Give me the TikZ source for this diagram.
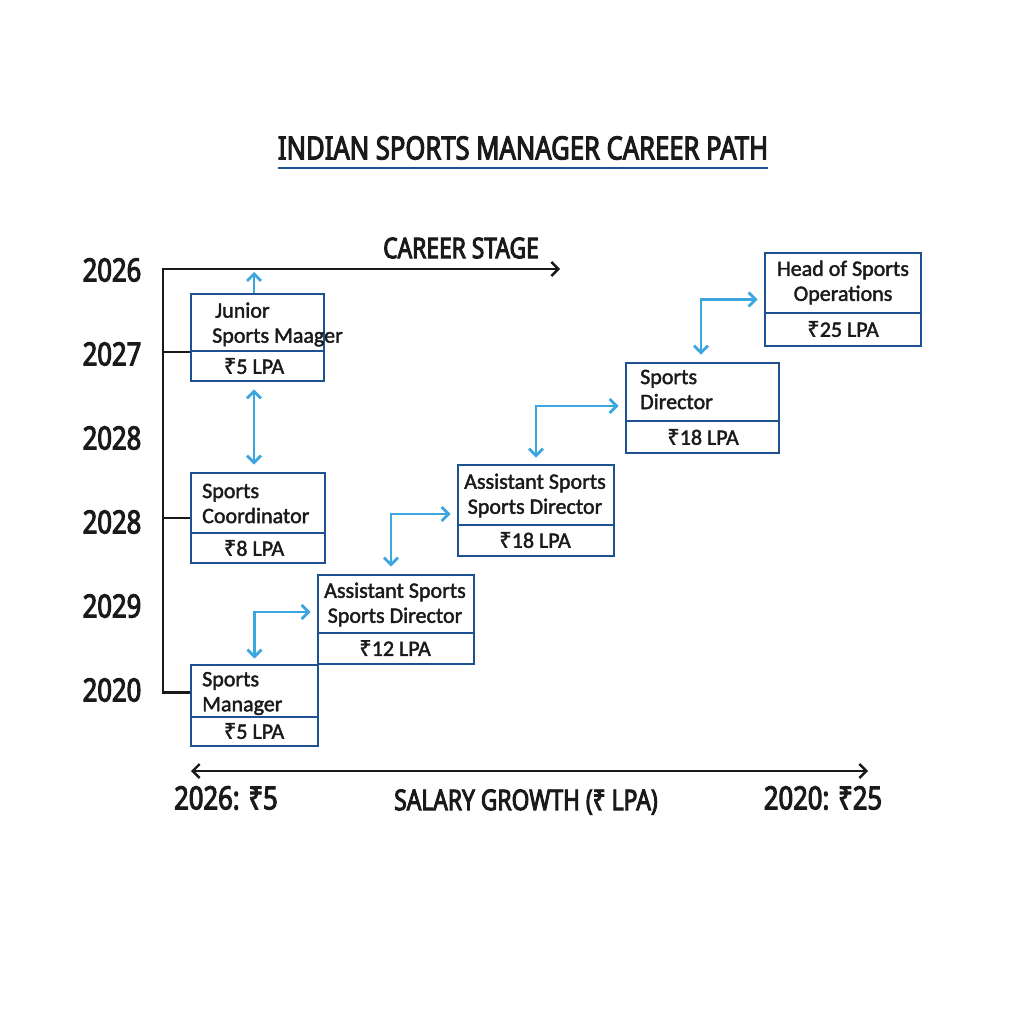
\documentclass[tikz,border=0pt]{standalone}
\usepackage{fontspec}
\setmainfont[FakeBold=1.8]{Carlito}
\newfontfamily\headfont[FakeStretch=0.8, FakeBold=3.2]{Noto Sans}
\newfontfamily\rupfont[FakeBold=1.4]{Noto Sans}
\usetikzlibrary{arrows.meta}
\definecolor{boxblue}{HTML}{1D5190}
\definecolor{flowblue}{HTML}{3BA7DE}
\definecolor{inkgray}{HTML}{1A1A1A}
\newcommand{\rs}{{\rupfont ₹}}

\begin{document}
\begin{tikzpicture}[x=1pt, y=-1pt,
    >={Straight Barb[length=7pt,width=14pt]},
    stage/.style={draw=boxblue, line width=2.8pt, fill=white, inner sep=0pt},
    divider/.style={draw=boxblue, line width=2.2pt},
    role/.style={font=\fontsize{22}{25}\selectfont, text=inkgray, align=center, inner sep=0pt},
    pay/.style={font=\fontsize{22}{25}\selectfont, text=inkgray, inner sep=0pt},
    flow/.style={draw=flowblue, line width=2.8pt},
    axis/.style={draw=black!90, line width=2.4pt},
    year/.style={font=\headfont\fontsize{32}{35}\selectfont, text=inkgray},
    heading/.style={font=\headfont\fontsize{28.5}{32}\selectfont, text=inkgray}]
      \fill[white] (0,0) rectangle (1024,1024);
      \useasboundingbox (0,0) rectangle (1024,1024);
      % title
      \node[heading, font=\headfont\fontsize{32}{36}\selectfont] (title) at (523,148) {INDIAN SPORTS MANAGER CAREER PATH};
      \draw[boxblue, line width=2.5pt] (278,168) -- (768,168);
      % stage boxes
      \node[stage, minimum width=133pt, minimum height=87pt] (junior) at (257.5,337.5) {};
      \node[stage, minimum width=134pt, minimum height=90pt] (coord) at (258,518) {};
      \node[stage, minimum width=127pt, minimum height=81pt] (mgr) at (254.5,705.5) {};
      \node[stage, minimum width=156pt, minimum height=89pt] (asst) at (396,619.5) {};
      \node[stage, minimum width=156pt, minimum height=91pt] (asstb) at (536,510.5) {};
      \node[stage, minimum width=153pt, minimum height=90pt] (dir) at (702.5,408) {};
      \node[stage, minimum width=156pt, minimum height=93pt] (head) at (843,299.5) {};
      \draw[divider] (junior.west |- 0,351) -- (junior.east |- 0,351);
      \draw[divider] (coord.west |- 0,533) -- (coord.east |- 0,533);
      \draw[divider] (mgr.west |- 0,717) -- (mgr.east |- 0,717);
      \draw[divider] (asst.west |- 0,633) -- (asst.east |- 0,633);
      \draw[divider] (asstb.west |- 0,525) -- (asstb.east |- 0,525);
      \draw[divider] (dir.west |- 0,421) -- (dir.east |- 0,421);
      \draw[divider] (head.west |- 0,313) -- (head.east |- 0,313);
      % roles and pay
      \node[role, anchor=west, align=left] (junior-t) at (212,324.5) {\hspace{3pt}Junior\\Sports Maager};
      \node[pay] (junior-p) at (254,366) {\rs5 LPA};
      \node[role, anchor=west, align=left] (coord-t) at (202,503.5) {Sports\\Coordinator};
      \node[pay] (coord-p) at (254,548) {\rs8 LPA};
      \node[role, anchor=west, align=left] (mgr-t) at (202,693.5) {Sports\\Manager};
      \node[pay] (mgr-p) at (254,731) {\rs5 LPA};
      \node[role] (asst-t) at (395,604.5) {Assistant Sports\\Sports Director};
      \node[pay] (asst-p) at (395,648) {\rs12 LPA};
      \node[role] (asstb-t) at (535,495.5) {Assistant Sports\\Sports Director};
      \node[pay] (asstb-p) at (535,540) {\rs18 LPA};
      \node[role, anchor=west, align=left] (dir-t) at (640,389.5) {Sports\\Director};
      \node[pay] (dir-p) at (703,437) {\rs18 LPA};
      \node[role] (head-t) at (843,282.5) {Head of Sports\\Operations};
      \node[pay] (head-p) at (843,329) {\rs25 LPA};
      % career stage axis
      \coordinate (corner) at (163,269);
      \coordinate (tip) at (560,269);
      \node[heading] (stage-l) at (461,248) {CAREER STAGE};
      \draw[axis,<-] (tip) -- (corner) |- ([yshift=13pt]mgr.west);
      \draw[axis] (corner |- 0,352) -- (junior.west |- 0,352);
      \draw[axis] (corner |- coord.west) -- (coord.west);
      % years
      \node[year] (y1) at (112,270) {2026};
      \node[year] (y2) at (112,354) {2027};
      \node[year] (y3) at (112,438) {2028};
      \node[year] (y4) at (112,522) {2028};
      \node[year] (y5) at (112,606) {2029};
      \node[year] (y6) at (112,690) {2020};
      % promotions
      \coordinate (up) at (254,272);
      \draw[flow,->] (junior.north -| up) -- (up);
      \draw[flow,<->, shorten <=7pt, shorten >=7pt] ([xshift=-3.5pt]junior.south) -- ([xshift=-4pt]coord.north);
      \draw[flow,<->, shorten <=5pt, shorten >=6pt] (mgr.north) |- ([yshift=7.5pt]asst.west);
      \draw[flow,<->, shorten <=7pt, shorten >=6pt] ([xshift=-5pt]asst.north) |- ([yshift=-3.5pt]asstb.west);
      \draw[flow,<->, shorten <=6pt, shorten >=6pt] (asstb.north) |- ([yshift=2pt]dir.west);
      \draw[flow,<->, shorten <=7pt, shorten >=6pt] ([xshift=-1.5pt]dir.north) |- (head.west);
      % salary axis
      \coordinate (lo) at (191,771);
      \coordinate (hi) at (868,771);
      \draw[axis,<->] (lo) -- (hi);
      \node[year] (lo-l) at (226,798) {2026: ₹5};
      \node[heading] (sal-l) at (526,802) {SALARY GROWTH (₹ LPA)};
      \node[year] (hi-l) at (823,798) {2020: ₹25};
\end{tikzpicture}
\end{document}
